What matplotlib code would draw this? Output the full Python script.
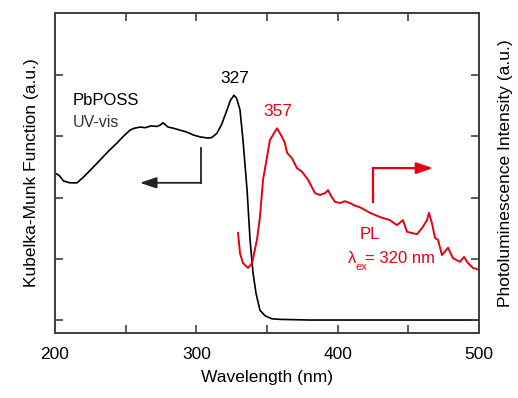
import matplotlib
matplotlib.use("Agg")
import matplotlib.pyplot as plt
from matplotlib.ticker import MultipleLocator

plt.rcParams['font.family'] = ['Liberation Sans', 'DejaVu Sans']

# UV-vis (Kubelka-Munk) curve
uv_wl = [200, 203, 206, 210.6, 215.6, 220, 226, 231.8, 238, 243.9, 248, 253.1, 256, 260.1,
         264, 268, 272, 274.3, 276.4, 280, 284, 288.4, 293, 298, 302.6, 308.3, 311, 314.6,
         318, 321.7, 324, 326.6, 328.5, 330.9, 333.0, 335.9, 338.0, 340.1, 342.2, 345.0,
         348.6, 353.5, 360, 380, 420, 460, 500]
uv_val = [2.40, 2.36, 2.27, 2.24, 2.24, 2.33, 2.47, 2.61, 2.76, 2.89, 2.99, 3.10, 3.13, 3.15,
          3.14, 3.17, 3.16, 3.18, 3.22, 3.15, 3.13, 3.10, 3.07, 3.02, 2.99, 2.97, 2.98, 3.05,
          3.20, 3.43, 3.58, 3.67, 3.62, 3.43, 2.94, 2.12, 1.31, 0.77, 0.44, 0.16,
          0.07, 0.02, 0.01, 0.0, 0.0, 0.0, 0.0]

# PL curve
pl_wl = [329.5, 330.9, 333.0, 336.6, 339.4, 342.9, 345.0, 347.2, 350.0, 352.1, 354.2, 357.1,
         360.6, 362.5, 364.2, 367.7, 371.2, 374.8, 379.0, 384.0, 387.5, 391.0, 393.2, 395.5,
         398.1, 401.7, 405, 408.7, 412, 415.8, 419, 422.9, 426, 430.0, 433, 437.0, 440, 442.0,
         446.2, 449.1, 452.6, 456.1, 459.7, 463.2, 464.6, 466.7, 468.9, 471.0, 473.8, 478.1,
         481.6, 486.6, 489.4, 492.2, 495.8, 500]
pl_val = [1.42, 1.09, 0.93, 0.85, 0.93, 1.31, 1.68, 2.29, 2.66, 2.94, 3.02, 3.13,
          2.99, 2.90, 2.73, 2.64, 2.48, 2.42, 2.29, 2.07, 2.04, 2.07, 2.12, 2.02,
          1.93, 1.91, 1.94, 1.91, 1.87, 1.84, 1.80, 1.75, 1.72, 1.68, 1.66, 1.63, 1.58, 1.55,
          1.63, 1.44, 1.42, 1.40, 1.50, 1.63, 1.75, 1.58, 1.34, 1.31, 1.06, 1.18,
          1.01, 0.95, 1.03, 0.93, 0.85, 0.82]

x_ticks = [200, 300, 400, 500]
y_ticks = [0, 1, 2, 3, 4]

red = '#e60012'
spine_col = '#404040'

fig = plt.figure(figsize=(5.18, 3.98), dpi=100)
ax = fig.add_axes([0.1062, 0.1633, 0.8185, 0.804])
ax2 = ax.twinx()

ax.plot(uv_wl, uv_val, color='black', lw=1.2)
ax2.plot(pl_wl, pl_val, color=red, lw=1.4)

for a in (ax, ax2):
    a.set_xlim(200, 500)
    a.set_ylim(-0.212, 5.012)
    for s in a.spines.values():
        s.set_color(spine_col)
        s.set_linewidth(1.3)

ax.set_xticks(x_ticks)
ax.xaxis.set_minor_locator(MultipleLocator(50))
ax.set_yticks(y_ticks)
ax.set_yticklabels([])
ax2.set_yticks(y_ticks)
ax2.set_yticklabels([])
ax.tick_params(axis='x', which='both', direction='in', top=True, length=6, width=1.2,
               color=spine_col, labelsize=12.5, pad=10)
ax.tick_params(axis='y', direction='in', length=6, width=1.2, color=spine_col)
ax2.tick_params(axis='y', direction='in', length=6, width=1.2, color=spine_col)

ax.set_xlabel('Wavelength (nm)', fontsize=12.5, labelpad=6)
ax.set_ylabel('Kubelka-Munk Function (a.u.)', fontsize=12.5, labelpad=8)
ax2.set_ylabel('Photoluminescence Intensity (a.u.)', fontsize=12.5, labelpad=10)

# annotations
ax.text(327.4, 3.95, '327', fontsize=12.5, ha='center', va='center', color='black')
ax2.text(357.8, 3.40, '357', fontsize=12.5, ha='center', va='center', color=red)
ax.text(212.7, 3.59, 'PbPOSS', fontsize=12, ha='left', va='center', color='black')
ax.text(212.7, 3.23, 'UV-vis', fontsize=11.5, ha='left', va='center', color='#333333')
ax2.text(422.9, 1.40, 'PL', fontsize=12, ha='center', va='center', color=red)
ax2.text(407.3, 1.01, 'λ', fontsize=12, ha='left', va='center', color=red)
ax2.text(412.6, 0.87, 'ex', fontsize=8, ha='left', va='center', color=red)
ax2.text(419.0, 1.01, '= 320 nm', fontsize=12, ha='left', va='center', color=red)

# arrows
ax.plot([303.3, 303.3], [2.81, 2.24], color='#222222', lw=1.3)
ax.annotate('', xy=(260.1, 2.24), xytext=(303.3, 2.24),
            arrowprops=dict(arrowstyle='-|>,head_length=0.5,head_width=0.17',
                            color='#222222', lw=1.3, shrinkA=0, shrinkB=0,
                            mutation_scale=20))
ax2.plot([425.0, 425.0], [1.93, 2.48], color=red, lw=1.6)
ax2.annotate('', xy=(467.5, 2.48), xytext=(425.0, 2.48),
             arrowprops=dict(arrowstyle='-|>,head_length=0.5,head_width=0.17',
                             color=red, lw=1.6, shrinkA=0, shrinkB=0,
                             mutation_scale=20))

fig.savefig('out.png', dpi=100)
